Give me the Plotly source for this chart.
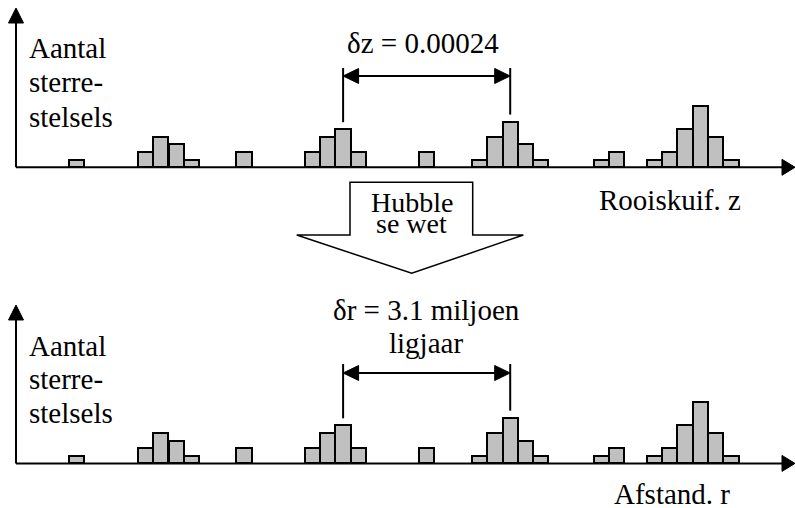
import plotly.graph_objects as go

# ---------------- data ----------------
bin_centers = [76.8,
               145.4, 160.8, 176.2, 191.6,
               244.0,
               312.6, 327.9, 343.1, 358.4,
               426.5,
               479.6, 494.9, 510.2, 525.4, 540.7,
               601.3, 616.5,
               654.4, 669.7, 685.0, 700.4, 715.7, 731.0]
galaxy_counts = [1,
                 2, 4, 3, 1,
                 2,
                 2, 4, 5, 2,
                 2,
                 1, 4, 6, 3, 1,
                 1, 2,
                 1, 2, 5, 8, 4, 1]
peak_a_index = 8
peak_b_index = 13

y_label_lines = ["Aantal", "sterre-", "stelsels"]
top_delta_lines = ["δz = 0.00024"]
bottom_delta_lines = ["δr = 3.1 miljoen", "ligjaar"]
top_x_label = "Rooiskuif. z"
bottom_x_label = "Afstand. r"
hubble_lines = ["Hubble", "se wet"]

# ---------------- layout constants ----------------
W, H = 795, 508
BAR_W = 15.3
UNIT = 7.62          # px per galaxy count
SERIF = "Liberation Serif"

panels = [
    dict(base=167.3, top=0, tip=8, label_base=[58, 92, 127], delta_y=76, vtop=68,
         delta_lines=top_delta_lines, delta_base=[53], delta_cx=423,
         xlab=top_x_label, xlab_x=598, xlab_base=210),
    dict(base=463.4, top=280, tip=305, label_base=[356, 388.5, 423], delta_y=373, vtop=364,
         delta_lines=bottom_delta_lines, delta_base=[320, 353], delta_cx=426,
         xlab=bottom_x_label, xlab_x=613, xlab_base=504),
]


def fx(x):
    return x / W


def fy(y):
    return 1 - y / H


shapes = []
annotations = []


def line(x0, y0, x1, y1, w=2):
    shapes.append(dict(type="line", xref="paper", yref="paper",
                       x0=fx(x0), y0=fy(y0), x1=fx(x1), y1=fy(y1),
                       line=dict(color="black", width=w), layer="above"))


def poly(pts, fill="black", w=1):
    path = "M " + " L ".join(f"{fx(a):.5f},{fy(b):.5f}" for a, b in pts) + " Z"
    shapes.append(dict(type="path", xref="paper", yref="paper", path=path,
                       fillcolor=fill, line=dict(color="black", width=w), layer="above"))


def add_text(s, x, baseline, anchor="left", size=29):
    annotations.append(dict(text=s, xref="paper", yref="paper", x=fx(x),
                            y=fy(baseline - 0.335 * size), xanchor=anchor,
                            yanchor="middle", showarrow=False,
                            font=dict(family=SERIF, size=size, color="black")))


fig = go.Figure()
for i, p in enumerate(panels):
    sx = "" if i == 0 else str(i + 1)
    fig.add_trace(go.Bar(x=bin_centers, y=galaxy_counts, width=BAR_W,
                         marker=dict(color="#c0c0c0", line=dict(color="black", width=2)),
                         xaxis="x" + sx, yaxis="y" + sx, hoverinfo="skip",
                         showlegend=False))
    ax = dict(range=[0, W], domain=[0, 1], visible=False, fixedrange=True)
    ay = dict(range=[0, (p["base"] - p["top"]) / UNIT],
              domain=[fy(p["base"]), fy(p["top"])], visible=False, fixedrange=True)
    if i == 0:
        fig.update_layout(xaxis=ax, yaxis=ay)
    else:
        ax["anchor"] = "y2"
        ay["anchor"] = "x2"
        fig.update_layout(xaxis2=ax, yaxis2=ay)

    b = p["base"]
    # y axis with arrow
    line(16, p["tip"] + 10, 16, b)
    poly([(16, p["tip"]), (8.5, p["tip"] + 15), (23.5, p["tip"] + 15)])
    # x axis with arrow
    line(16, b, 785, b)
    poly([(795, b), (782, b - 8), (782, b + 8)])

    # delta markers at the two peaks
    xa = bin_centers[peak_a_index]
    xb = bin_centers[peak_b_index]
    for k in (peak_a_index, peak_b_index):
        xc = bin_centers[k]
        line(xc, p["vtop"], xc, b - galaxy_counts[k] * UNIT - 7, w=2)
    yA = p["delta_y"]
    line(xa + 4, yA, xb - 4, yA, w=2)
    poly([(xa, yA), (xa + 15.5, yA - 7.5), (xa + 15.5, yA + 7.5)])
    poly([(xb, yA), (xb - 15.5, yA - 7.5), (xb - 15.5, yA + 7.5)])

    for s, bl in zip(p["delta_lines"], p["delta_base"]):
        add_text(s, p["delta_cx"], bl, anchor="center")
    for s, bl in zip(y_label_lines, p["label_base"]):
        add_text(s, 26.5, bl)
    add_text(p["xlab"], p["xlab_x"] - 1.5, p["xlab_base"])

# Hubble block arrow
poly([(350, 182.3), (472.7, 182.3), (472.7, 235), (523.3, 235), (411.7, 273.3),
      (296.7, 235), (350, 235)], fill="white", w=1.5)
add_text(hubble_lines[0], 411.5, 211.7, anchor="center", size=28)
add_text(hubble_lines[1], 411.5, 233, anchor="center", size=28)

fig.update_layout(width=W, height=H, margin=dict(l=0, r=0, t=0, b=0),
                  font=dict(family=SERIF, size=29, color="black"),
                  paper_bgcolor="white", plot_bgcolor="rgba(0,0,0,0)",
                  shapes=shapes, annotations=annotations, bargap=0,
                  hovermode=False, showlegend=False)
fig.write_html("out.html", config={"displayModeBar": False},
               post_script="document.body.style.margin='0';")
